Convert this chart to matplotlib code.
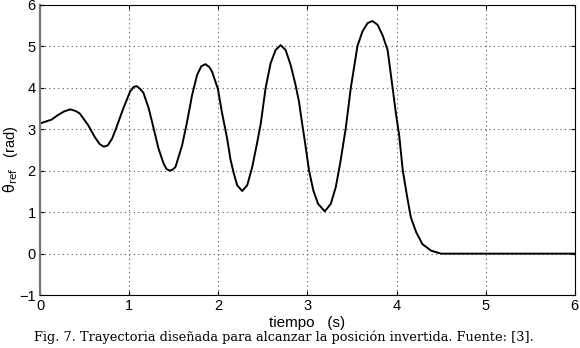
import matplotlib
matplotlib.use("Agg")
import matplotlib.pyplot as plt

t = [0.0, 0.127, 0.20, 0.27, 0.34, 0.40, 0.446, 0.54, 0.615, 0.67, 0.716, 0.76,
     0.81, 0.86, 0.934, 1.009, 1.05, 1.085, 1.12, 1.16, 1.22, 1.275, 1.33, 1.387,
     1.42, 1.455, 1.49, 1.52, 1.594, 1.65, 1.706, 1.762, 1.81, 1.856, 1.90, 1.93,
     1.995, 2.04, 2.10, 2.137, 2.175, 2.212, 2.268, 2.325, 2.381, 2.43, 2.475, 2.53,
     2.587, 2.643, 2.70, 2.756, 2.812, 2.868, 2.906, 2.943, 2.97, 3.018, 3.067, 3.12,
     3.195, 3.262, 3.318, 3.367, 3.43, 3.487, 3.562, 3.618, 3.675, 3.73, 3.787, 3.843,
     3.90, 3.956, 3.993, 4.03, 4.07, 4.12, 4.16, 4.22, 4.29, 4.39, 4.50, 5.0, 6.0]
theta = [3.14, 3.23, 3.34, 3.43, 3.48, 3.44, 3.38, 3.10, 2.81, 2.64, 2.58, 2.61,
         2.78, 3.06, 3.50, 3.90, 4.02, 4.04, 3.98, 3.88, 3.50, 3.02, 2.53, 2.17,
         2.04, 2.00, 2.03, 2.09, 2.61, 3.18, 3.82, 4.31, 4.52, 4.57, 4.50, 4.39,
         3.98, 3.42, 2.77, 2.27, 1.93, 1.65, 1.51, 1.65, 2.09, 2.61, 3.11, 3.98,
         4.59, 4.91, 5.03, 4.91, 4.55, 4.06, 3.66, 3.11, 2.73, 2.01, 1.52, 1.20,
         1.02, 1.20, 1.60, 2.17, 3.02, 4.00, 5.01, 5.36, 5.56, 5.61, 5.52, 5.27,
         4.91, 4.00, 3.38, 2.85, 2.01, 1.36, 0.88, 0.52, 0.23, 0.07, 0.0, 0.0, 0.0]

xticks = [0, 1, 2, 3, 4, 5, 6]
yticks = [-1, 0, 1, 2, 3, 4, 5, 6]

plt.rcParams['font.family'] = ['Liberation Sans', 'DejaVu Sans']
fig = plt.figure(figsize=(5.8, 3.48), dpi=100)
ax = fig.add_axes([0.069, 0.152, 0.922, 0.834])
ax.plot(t, theta, color='black', lw=1.4, solid_joinstyle='round')
ax.set_xlim(0, 6)
ax.set_ylim(-1, 6)
ax.set_xticks(xticks)
ax.set_yticks(yticks)
ax.tick_params(direction='in', length=3, labelsize=10.5, pad=3, top=True, right=True)
ax.grid(True, linestyle=(0, (1, 3)), color='#555555', lw=0.8)
for s in ax.spines.values():
    s.set_linewidth(0.8)
ax.spines['left'].set_linewidth(1.6)
ax.spines['left'].set_color('#777777')
ax.set_xlabel('tiempo   (s)', fontsize=11, labelpad=2)
ax.set_ylabel(r'$\mathrm{\theta}_{\mathrm{ref}}$   (rad)', fontsize=10.5)
ax.yaxis.set_label_coords(-0.037, 0.47)
fig.text(0.49, 0.03, 'Fig. 7. Trayectoria diseñada para alcanzar la posición invertida. Fuente: [3].',
         ha='center', va='center', fontsize=9.3, family=['DejaVu Serif'])
fig.savefig('out.png', dpi=100)
